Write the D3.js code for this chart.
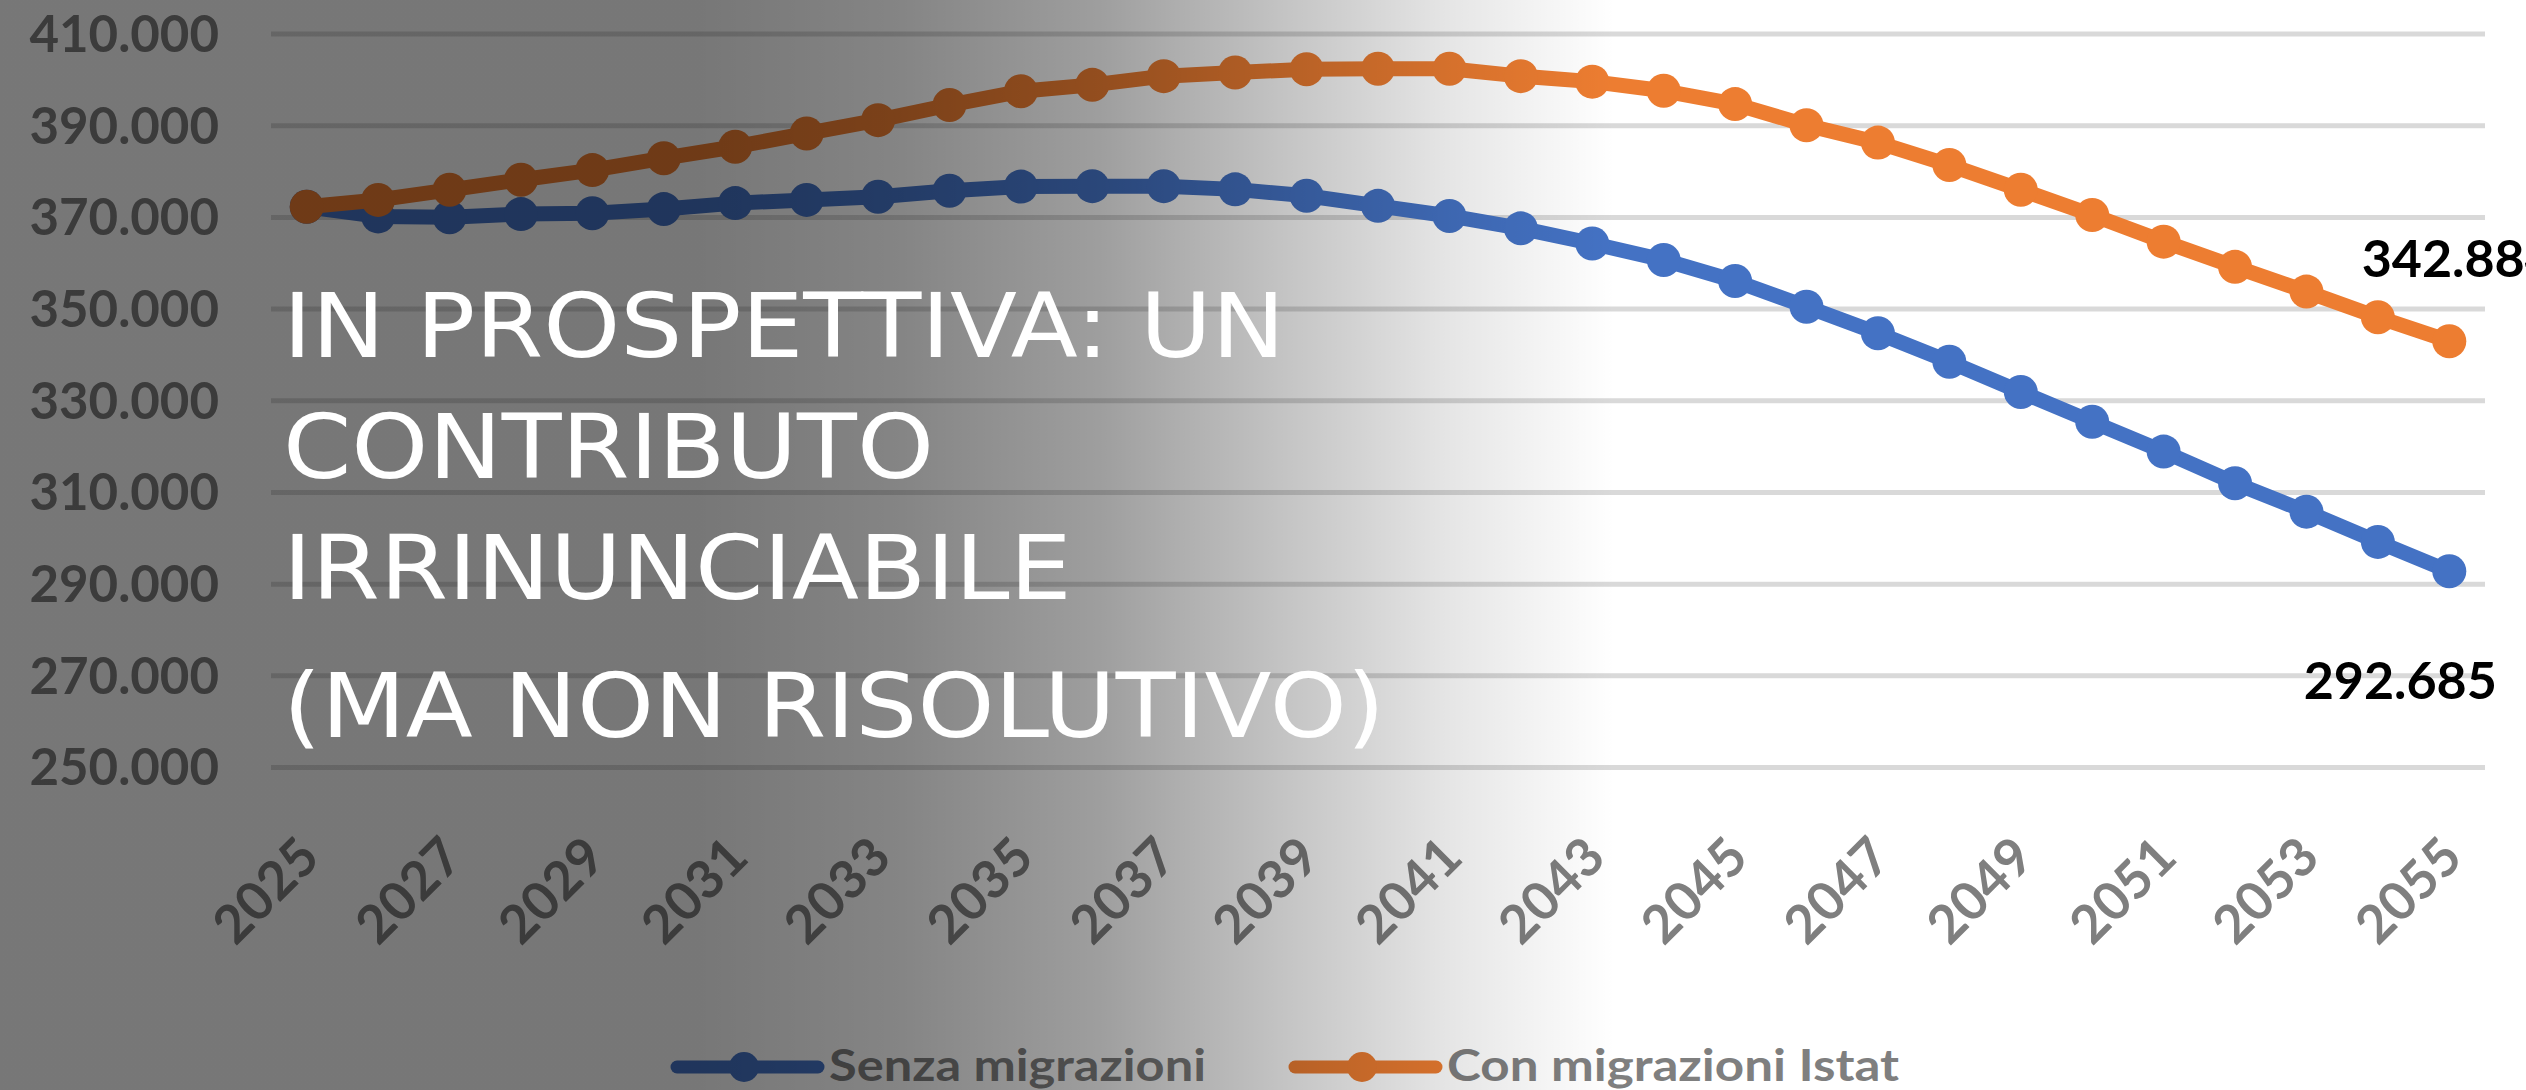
<!DOCTYPE html>
<html><head><meta charset="utf-8">
<script src="https://cdn.jsdelivr.net/npm/d3@7"></script>
<style>html,body{margin:0;padding:0;background:#fff;overflow:hidden}</style>
</head><body>
<svg id="c" width="2526" height="1090"></svg>
<script>
// ---- data ----
const years = [2025,2026,2027,2028,2029,2030,2031,2032,2033,2034,2035,2036,2037,2038,2039,2040,
               2041,2042,2043,2044,2045,2046,2047,2048,2049,2050,2051,2052,2053,2054,2055];
const tickYears = [2025,2027,2029,2031,2033,2035,2037,2039,2041,2043,2045,2047,2049,2051,2053,2055];
const seriesNames = ["Senza migrazioni", "Con migrazioni Istat"];
const senzaMigrazioni = [372200,370100,369900,370600,370800,371700,373000,373700,374400,375700,376600,
                         376700,376700,376000,374600,372400,370200,367500,364200,360600,356000,
                         350400,344600,338400,331800,325300,318800,311900,305700,299100,292685];
const conMigrazioni = [372200,373700,375900,378100,380200,382800,385300,388200,391100,394400,397400,
                       398800,400700,401500,402200,402300,402300,400700,399500,397500,394600,
                       390000,386200,381300,375900,370400,364600,359100,353700,348100,342884];
const yTicks = [250000,270000,290000,310000,330000,350000,370000,390000,410000];
const titleLines = ["IN PROSPETTIVA: UN", "CONTRIBUTO", "IRRINUNCIABILE", "(MA NON RISOLUTIVO)"];

// ---- setup ----
const W = 2526, H = 1090;
const colors = ["#4472C4", "#ED7D31"];
const labelFont = "Lato, 'Open Sans', sans-serif";
const svg = d3.select("#c");
const loc = d3.formatLocale({decimal: ",", thousands: ".", grouping: [3], currency: ["€", ""]});
const fmt = loc.format(",");

const x = d3.scalePoint().domain(years).range([271, 2485]).padding(0.5);
const y = d3.scaleLinear().domain([250000, 410000]).range([767, 33.5]);

svg.append("rect").attr("width", W).attr("height", H).attr("fill", "#fff");

// grid + y labels
const gy = svg.append("g").attr("transform", "translate(271,0)")
  .call(d3.axisLeft(y).tickValues(yTicks).tickSize(-(2485 - 271)).tickPadding(52).tickFormat(fmt));
gy.select(".domain").remove();
gy.selectAll(".tick line").attr("stroke", "#D9D9D9").attr("stroke-width", 5);
gy.selectAll(".tick text").attr("fill", "#7F7F7F").attr("font-family", labelFont)
  .attr("font-weight", 700).attr("font-size", 51).attr("dy", "0.35em");

// x labels
const gx = svg.append("g").attr("transform", "translate(0,767)")
  .call(d3.axisBottom(x).tickValues(tickYears).tickSize(0));
gx.select(".domain").remove();
gx.selectAll(".tick text").attr("fill", "#7F7F7F").attr("font-family", labelFont)
  .attr("font-weight", 700).attr("font-size", 53)
  .attr("x", 0).attr("y", 0).attr("dy", "0.35em")
  .attr("text-anchor", "end").attr("transform", "translate(2,80) rotate(-45)");

// series
const series = [senzaMigrazioni, conMigrazioni];
const line = d3.line().x((d, i) => x(years[i])).y(d => y(d));
series.forEach((vals, s) => {
  const g = svg.append("g");
  g.append("path").datum(vals).attr("d", line).attr("fill", "none")
    .attr("stroke", colors[s]).attr("stroke-width", 15).attr("stroke-linejoin", "round").attr("stroke-linecap", "round");
  g.selectAll("circle").data(vals).join("circle")
    .attr("cx", (d, i) => x(years[i])).attr("cy", d => y(d)).attr("r", 17).attr("fill", colors[s]);
});

// data labels for last points
const last = years.length - 1;
const labelOffsets = [[-49, 128], [9, -64]];
series.forEach((vals, s) => {
  svg.append("text")
    .attr("x", x(years[last]) + labelOffsets[s][0])
    .attr("y", y(vals[last]) + labelOffsets[s][1])
    .attr("text-anchor", "middle").attr("font-family", labelFont).attr("font-weight", 700)
    .attr("font-size", 52).attr("fill", "#000").text(fmt(vals[last]));
});

// legend
const legendX = [677, 1295];
const legendW = [377, 452];
seriesNames.forEach((name, s) => {
  const g = svg.append("g").attr("transform", `translate(${legendX[s]},1067)`);
  g.append("line").attr("x1", 0).attr("x2", 141).attr("stroke", colors[s]).attr("stroke-width", 13).attr("stroke-linecap", "round");
  g.append("circle").attr("cx", 67).attr("r", 15).attr("fill", colors[s]);
  g.append("text").attr("x", 152).attr("y", 14).attr("font-family", labelFont).attr("font-weight", 700)
    .attr("font-size", 44).attr("fill", "#7F7F7F")
    .attr("textLength", legendW[s]).attr("lengthAdjust", "spacingAndGlyphs").text(name);
});

// dark gradient overlay (slide design)
const defs = svg.append("defs");
const grad = defs.append("linearGradient").attr("id", "shade")
  .attr("gradientUnits", "userSpaceOnUse").attr("x1", 0).attr("x2", W).attr("y1", 0).attr("y2", 0);
[[0, .533], [700, .533], [900, .48], [1100, .38], [1300, .22], [1450, .10], [1615, 0], [W, 0]].forEach(([px, o]) => {
  grad.append("stop").attr("offset", px / W).attr("stop-color", "#000").attr("stop-opacity", o);
});
svg.append("rect").attr("width", W).attr("height", H).attr("fill", "url(#shade)");

// title
const tg = svg.append("g").attr("transform", "translate(283,0) scale(1.1,1)");
const baselines = [357, 478, 599, 737];
tg.selectAll("text").data(titleLines).join("text")
  .attr("x", 0).attr("y", (d, i) => baselines[i])
  .attr("font-family", "'DejaVu Sans', sans-serif").attr("font-size", 89).attr("fill", "#fff")
  .text(d => d);
</script>
</body></html>
